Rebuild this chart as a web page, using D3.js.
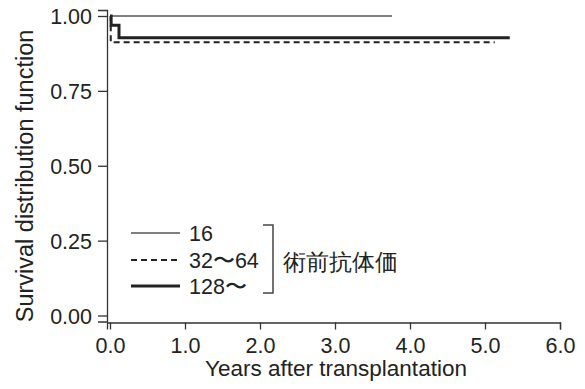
<!DOCTYPE html>
<html><head><meta charset="utf-8">
<script src="https://cdn.jsdelivr.net/npm/d3@7"></script>
<style>body{margin:0;background:#fff}svg{display:block}text{font-family:"Liberation Sans",Arial,sans-serif;fill:#222}</style>
</head><body><svg id="c" width="585" height="389"></svg>
<script>
// Data
const xTicks = [0, 1, 2, 3, 4, 5, 6];
const yTicks = [0, 0.25, 0.5, 0.75, 1.0];
const seriesNames = ["16", "32\u301C64", "128\u301C"];
const times16 = [0, 3.76];
const surv16 = [1, 1];
const times32 = [0, 0.01, 5.13];
const surv32 = [1, 0.912, 0.912];
const times128 = [0, 0.015, 0.12, 5.33];
const surv128 = [1, 0.969, 0.927, 0.927];
const groupLabel = "術前抗体価";

const svg = d3.select("#c");
const x = d3.scaleLinear().domain([-0.04, 6]).range([107, 560]);
const y = d3.scaleLinear().domain([-0.02, 1.02]).range([321.5, 10]);

const axisColor = "#333";
const gx = svg.append("g").attr("transform", "translate(0,322.5)")
  .call(d3.axisBottom(x).tickValues(xTicks).tickFormat(d3.format(".1f")).tickSizeOuter(0).tickSize(7).tickPadding(8));
const gy = svg.append("g").attr("transform", "translate(107,0)")
  .call(d3.axisLeft(y).tickValues(yTicks).tickFormat(d3.format(".2f")).tickSizeOuter(0).tickSize(9).tickPadding(6));
[gx, gy].forEach(g => {
  g.selectAll("path,line").attr("stroke", axisColor).attr("stroke-width", 1.3);
  g.selectAll("text").attr("font-size", 21.5).attr("font-family", "'Liberation Sans',Arial,sans-serif").attr("fill", "#222");
});
gy.selectAll("text").attr("dy", "0.35em");

svg.append("text").attr("x", 336).attr("y", 376).attr("text-anchor", "middle")
  .attr("font-size", 22.5).text("Years after transplantation");
svg.append("text").attr("transform", "translate(33,176) rotate(-90)").attr("text-anchor", "middle")
  .attr("font-size", 23.5).text("Survival distribution function");

const line = d3.line().x(d => x(d[0])).y(d => y(d[1])).curve(d3.curveStepAfter);
const zip = (t, s) => t.map((v, i) => [v, s[i]]);
const styles = [
  {w: 1.4, c: "#555", dash: null},
  {w: 2, c: "#222", dash: "6,4"},
  {w: 3, c: "#222", dash: null}
];
const data = [zip(times16, surv16), zip(times32, surv32), zip(times128, surv128)];
data.forEach((d, i) => {
  svg.append("path").attr("d", line(d)).attr("fill", "none")
    .attr("stroke", styles[i].c).attr("stroke-width", styles[i].w)
    .attr("stroke-dasharray", styles[i].dash);
});

// Legend
const ly = [233, 260, 286];
seriesNames.forEach((n, i) => {
  svg.append("line").attr("x1", 131).attr("x2", 180).attr("y1", ly[i]).attr("y2", ly[i])
    .attr("stroke", styles[i].c).attr("stroke-width", styles[i].w).attr("stroke-dasharray", styles[i].dash);
  svg.append("text").attr("x", 189).attr("y", ly[i]).attr("dy", "0.36em").attr("font-size", 21.5).text(n);
});
svg.append("path").attr("d", "M263,225H273V293H263").attr("fill", "none").attr("stroke", "#444").attr("stroke-width", 1.5);
svg.append("text").attr("x", 283).attr("y", 262).attr("dy", "0.36em").attr("font-size", 22.5)
  .attr("font-family", "'Noto Sans CJK JP',sans-serif").text(groupLabel);
</script></body></html>
